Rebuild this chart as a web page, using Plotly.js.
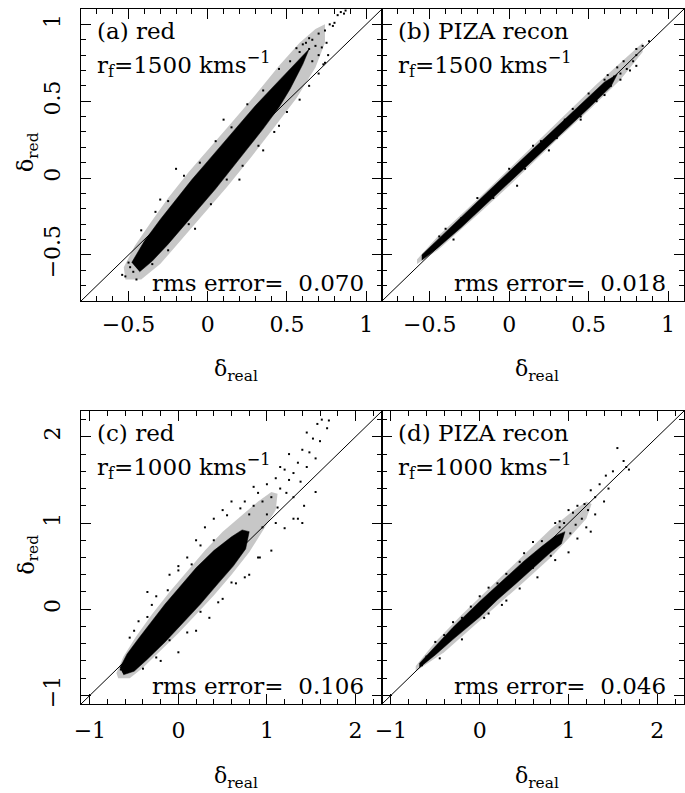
<!DOCTYPE html>
<html><head><meta charset="utf-8">
<script src="https://cdn.plot.ly/plotly-3.0.1.min.js"></script>
<style>html,body{margin:0;padding:0;background:#fff}</style>
</head><body><div id="plot" style="width:685px;height:793px"></div>
<script>
// ---- panel (a): red, r_f=1500 ----
const aCoreX = [-0.48,-0.4,-0.3,-0.2,-0.1,0,0.1,0.2,0.3,0.4,0.5,0.58,0.64, 0.6,0.52,0.45,0.35,0.25,0.15,0.05,-0.05,-0.15,-0.25,-0.35,-0.43];
const aCoreY = [-0.55,-0.41,-0.27,-0.14,-0.01,0.11,0.23,0.35,0.47,0.58,0.69,0.78,0.84, 0.74,0.58,0.46,0.32,0.19,0.06,-0.07,-0.19,-0.31,-0.43,-0.54,-0.61];
const aHaloX = [-0.53,-0.46,-0.36,-0.25,-0.12,0,0.15,0.3,0.45,0.58,0.68,0.74, 0.74,0.68,0.56,0.42,0.27,0.12,-0.03,-0.18,-0.3,-0.42,-0.52];
const aHaloY = [-0.58,-0.44,-0.29,-0.13,0.04,0.18,0.36,0.54,0.73,0.88,0.97,1.0, 0.88,0.72,0.52,0.33,0.13,-0.06,-0.24,-0.42,-0.56,-0.66,-0.66];
const aDotX = [0.84,0.86,0.87,0.82,0.77,0.79,0.80,0.74,0.70,0.66,0.68,0.72,0.75,0.64,0.70,0.76,0.62,0.58,0.66,0.73,-0.54,-0.52,-0.49,-0.47,-0.50,-0.45,
  0.2,0.35,-0.08,-0.2,0.1,0.45,-0.3,
  -0.42,-0.33,-0.25,-0.15,-0.05,0.05,0.15,0.25,0.35,0.45,0.52,0.56,0.6,0.64,
  -0.35,-0.25,-0.12,0.02,0.12,0.22,0.32,0.42,0.5,0.58,0.64,0.7,0.74];
const aDotY = [1.08,1.07,1.09,1.06,1.0,0.99,1.01,0.96,0.94,0.90,0.86,0.85,0.88,0.84,0.80,0.80,0.88,0.82,0.76,0.74,-0.63,-0.64,-0.58,-0.61,-0.55,-0.66,
  -0.01,0.18,-0.33,0.06,0.38,0.34,-0.14,
  -0.34,-0.22,-0.15,0.015,0.10,0.24,0.33,0.48,0.57,0.71,0.76,0.845,0.87,0.91,
  -0.56,-0.47,-0.30,-0.17,-0.01,0.08,0.21,0.30,0.43,0.51,0.60,0.68,0.75];

// ---- panel (b): PIZA recon, r_f=1500 ----
const bCoreX = [-0.55,-0.45,-0.3,-0.1,0.1,0.3,0.5,0.6,0.68, 0.64,0.5,0.3,0.1,-0.1,-0.3,-0.45,-0.55];
const bCoreY = [-0.50,-0.40,-0.25,-0.055,0.14,0.335,0.53,0.625,0.675, 0.595,0.455,0.26,0.065,-0.13,-0.32,-0.455,-0.535];
const bHaloX = [-0.58,-0.45,-0.2,0,0.3,0.55,0.7,0.84, 0.84,0.7,0.5,0.3,0,-0.2,-0.45,-0.58];
const bHaloY = [-0.53,-0.38,-0.14,0.06,0.36,0.61,0.75,0.88, 0.82,0.64,0.44,0.25,-0.05,-0.24,-0.47,-0.56];
const bDotX = [0.88,0.84,0.80,0.78,0.74,0.72,0.70,0.66,0.64,0.60,0.55,0.50,0.45,-0.53,-0.5,-0.47,-0.44,0.35,0.3,0.2,0.1,0.0,-0.1,-0.3,0.58,0.52,0.76,
  -0.4,-0.2,0.15,0.4,0.62,0.68,0.8,-0.35,0.05,0.25,0.45,0.6,0.7,0.8];
const bDotY = [0.89,0.86,0.80,0.76,0.71,0.76,0.68,0.66,0.60,0.64,0.50,0.55,0.40,-0.50,-0.47,-0.46,-0.38,0.38,0.26,0.24,0.06,0.06,-0.13,-0.26,0.55,0.50,0.70,
  -0.33,-0.13,0.21,0.45,0.67,0.72,0.84,-0.4,-0.05,0.18,0.38,0.54,0.64,0.73];

// ---- panel (c): red, r_f=1000 ----
const cCoreX = [-0.66,-0.58,-0.45,-0.3,-0.15,0,0.2,0.4,0.6,0.72,0.8, 0.76,0.62,0.45,0.25,0.05,-0.15,-0.35,-0.5,-0.62];
const cCoreY = [-0.68,-0.52,-0.34,-0.14,0.06,0.24,0.48,0.68,0.84,0.92,0.90, 0.70,0.50,0.30,0.06,-0.16,-0.38,-0.58,-0.72,-0.76];
const cHaloX = [-0.7,-0.62,-0.48,-0.3,-0.1,0.1,0.3,0.5,0.7,0.9,1.05,1.12, 1.1,0.95,0.8,0.6,0.4,0.2,0,-0.2,-0.4,-0.55,-0.68];
const cHaloY = [-0.74,-0.55,-0.32,-0.06,0.2,0.44,0.68,0.9,1.08,1.25,1.36,1.34, 1.15,0.9,0.66,0.4,0.16,-0.06,-0.28,-0.48,-0.68,-0.8,-0.8];
const cDotX = [1.70,1.68,1.62,1.57,1.52,1.60,1.48,1.55,1.40,1.35,1.45,1.30,1.25,1.20,1.38,1.15,1.10,1.05,1.22,1.30,1.0,0.95,1.12,0.90,0.85,1.0,1.1,0.75,0.8,1.3,1.42,1.4,0.95,0.92,0.80,0.65,0.5,0.2,0.35,0.0,-0.2,-0.35,-0.3,-0.5,0.1,0.3,0.5,0.6,-0.1,0.2,-0.62,-0.65,0.0,0.4,
  -0.55,-0.45,-0.35,-0.25,-0.12,0.0,0.15,0.25,0.4,0.55,0.7,0.85,
  -0.4,-0.25,-0.1,0.1,0.25,0.45,0.6,0.75,0.9,1.05,1.2,1.35,1.55,1.15,1.25,1.45];
const cDotY = [2.19,2.1,2.2,2.15,1.98,1.95,1.82,1.75,1.85,1.70,1.65,1.58,1.50,1.62,1.48,1.40,1.52,1.30,1.35,1.30,1.45,1.25,1.18,1.35,1.20,1.1,1.0,1.25,1.1,1.05,1.2,1.0,0.95,0.6,0.4,0.3,0.12,-0.25,-0.1,-0.5,-0.6,0.2,0.05,-0.25,0.6,0.95,1.15,1.25,0.4,0.8,-0.72,-0.7,0.5,1.05,
  -0.33,-0.14,-0.09,0.15,0.22,0.45,0.52,0.74,0.80,1.09,1.17,1.42,
  -0.69,-0.56,-0.36,-0.27,-0.03,0.08,0.31,0.37,0.60,0.68,0.94,1.05,1.36,1.65,1.8,2.05];

// ---- panel (d): PIZA recon, r_f=1000 ----
const dCoreX = [-0.68,-0.5,-0.3,0,0.3,0.5,0.7,0.85,0.96, 0.92,0.8,0.6,0.4,0.2,0,-0.3,-0.5,-0.68];
const dCoreY = [-0.63,-0.43,-0.21,0.09,0.37,0.56,0.73,0.85,0.90, 0.76,0.66,0.47,0.29,0.11,-0.09,-0.35,-0.53,-0.68];
const dHaloX = [-0.72,-0.5,-0.2,0.2,0.5,0.8,1.0,1.2,1.26, 1.2,1.0,0.8,0.5,0.2,-0.1,-0.4,-0.72];
const dHaloY = [-0.66,-0.38,-0.06,0.34,0.64,0.93,1.10,1.25,1.22, 1.05,0.82,0.6,0.32,0.05,-0.22,-0.5,-0.72];
const dDotX = [1.55,1.62,1.65,1.68,1.42,1.45,1.35,1.30,1.25,1.18,1.22,1.10,1.05,1.15,1.0,0.95,1.08,1.2,1.02,0.9,0.85,0.8,0.6,0.45,0.3,0.6,0.2,0.0,-0.2,0.1,-0.4,-0.6,-0.65,1.3,
  -0.5,-0.3,-0.1,0.1,0.3,0.5,0.7,0.9,
  -0.45,-0.2,0.05,0.25,0.45,0.65,0.85,1.0,1.1,1.25,1.4,1.5];
const dDotY = [1.87,1.72,1.65,1.62,1.55,1.40,1.45,1.30,1.38,1.22,1.15,1.20,1.12,1.05,1.15,1.0,0.98,0.95,0.88,0.95,1.0,0.62,0.48,0.55,0.1,0.78,0.3,0.15,-0.1,-0.05,-0.3,-0.55,-0.65,1.1,
  -0.38,-0.15,0.03,0.25,0.41,0.65,0.79,1.02,
  -0.57,-0.35,-0.1,0.05,0.24,0.37,0.57,0.66,0.82,0.9,1.25,1.6];

// axis ranges, diagonal, labels
const topRange = [-0.8, 1.1];
const botRange = [-1.1, 2.3];
const panelTitles = ['(a) red', '(b) PIZA recon', '(c) red', '(d) PIZA recon'];
const filterLabels = ['r<sub>f</sub>=1500 kms<sup>−1</sup>', 'r<sub>f</sub>=1500 kms<sup>−1</sup>', 'r<sub>f</sub>=1000 kms<sup>−1</sup>', 'r<sub>f</sub>=1000 kms<sup>−1</sup>'];
const rmsLabels = ['rms error=  0.070', 'rms error=  0.018', 'rms error=  0.106', 'rms error=  0.046'];
const xTitle = 'δ<sub>real</sub>';
const yTitle = 'δ<sub>red</sub>';

const W = 685, H = 793;
const FONT = 'DejaVu Serif';
const panels = [
  {cx:aCoreX, cy:aCoreY, hx:aHaloX, hy:aHaloY, dx:aDotX, dy:aDotY, range:topRange, px:[81,382], py:[9,301], major:0.5, minor:0.1, lso:3, xt:370},
  {cx:bCoreX, cy:bCoreY, hx:bHaloX, hy:bHaloY, dx:bDotX, dy:bDotY, range:topRange, px:[382,684], py:[9,301], major:0.5, minor:0.1, lso:3, xt:370},
  {cx:cCoreX, cy:cCoreY, hx:cHaloX, hy:cHaloY, dx:cDotX, dy:cDotY, range:botRange, px:[81,382], py:[411,704], major:1, minor:0.2, lso:6, xt:777},
  {cx:dCoreX, cy:dCoreY, hx:dHaloX, hy:dHaloY, dx:dDotX, dy:dDotY, range:botRange, px:[382,684], py:[411,704], major:1, minor:0.2, lso:6, xt:777}
];

const traces = [];
const layout = {
  width: W, height: H, margin:{l:0,r:0,t:0,b:0},
  paper_bgcolor:'#fff', plot_bgcolor:'#fff', showlegend:false,
  font:{family:FONT, size:22, color:'#000'},
  annotations: []
};

panels.forEach((p, i) => {
  const n = i + 1;
  const xa = n === 1 ? 'x' : 'x' + n;
  const ya = n === 1 ? 'y' : 'y' + n;
  traces.push({x:p.hx, y:p.hy, xaxis:xa, yaxis:ya, type:'scatter', mode:'lines', fill:'toself',
    fillcolor:'rgba(0,0,0,0.22)', line:{width:0}, hoverinfo:'skip'});
  traces.push({x:p.cx, y:p.cy, xaxis:xa, yaxis:ya, type:'scatter', mode:'lines', fill:'toself',
    fillcolor:'#000', line:{width:0.5, color:'#000'}, hoverinfo:'skip'});
  traces.push({x:p.dx, y:p.dy, xaxis:xa, yaxis:ya, type:'scatter', mode:'markers',
    marker:{size:2, color:'#000', symbol:'square'}, hoverinfo:'skip'});
  traces.push({x:p.range, y:p.range, xaxis:xa, yaxis:ya, type:'scatter', mode:'lines',
    line:{width:1, color:'#000'}, hoverinfo:'skip'});

  const common = {
    range:p.range, showgrid:false, zeroline:false, showline:true, linecolor:'#000', linewidth:1.2,
    mirror:'allticks', ticks:'inside', ticklen:10, tickwidth:1, tickcolor:'#000',
    dtick:p.major, tick0:0,
    minor:{dtick:p.minor, tick0:0, ticks:'inside', ticklen:5, tickwidth:1, tickcolor:'#000', showgrid:false},
    tickfont:{family:FONT, size:22, color:'#000'}
  };
  layout[n === 1 ? 'xaxis' : 'xaxis' + n] = Object.assign({}, common, {
    domain:[p.px[0]/W, p.px[1]/W], anchor:ya, ticklabelstandoff:p.lso
  });
  const left = (n === 1 || n === 3);
  layout[n === 1 ? 'yaxis' : 'yaxis' + n] = Object.assign({}, common, {
    domain:[1 - p.py[1]/H, 1 - p.py[0]/H], anchor:xa, tickangle:-90,
    showticklabels:left, ticklabelstandoff:11
  });

  // axis titles
  layout.annotations.push({xref:'paper', yref:'paper', x:((p.px[0] + p.px[1]) / 2 + 4)/W, y:1 - p.xt/H,
    xanchor:'center', yanchor:'middle', text:xTitle, showarrow:false, font:{family:FONT, size:22, color:'#000'}});
  if (left) {
    layout.annotations.push({xref:'paper', yref:'paper', x:28/W, y:1 - ((p.py[0] + p.py[1]) / 2 - 3)/H,
      xanchor:'center', yanchor:'middle', textangle:-90, text:yTitle, showarrow:false, font:{family:FONT, size:22, color:'#000'}});
  }

  const x0 = (p.px[0] + 14) / W;
  layout.annotations.push({xref:'paper', yref:'paper', x:x0, y:1 - (p.py[0] + 22)/H, xanchor:'left', yanchor:'middle',
    text:panelTitles[i], showarrow:false, font:{family:FONT, size:23, color:'#000'}});
  layout.annotations.push({xref:'paper', yref:'paper', x:x0, y:1 - (p.py[0] + 55)/H, xanchor:'left', yanchor:'middle',
    text:filterLabels[i], showarrow:false, font:{family:FONT, size:23, color:'#000'}});
  layout.annotations.push({xref:'paper', yref:'paper', x:(p.px[1] - 16)/W, y:1 - (p.py[1] - 18)/H, xanchor:'right', yanchor:'middle',
    text:rmsLabels[i], showarrow:false, font:{family:FONT, size:23, color:'#000'}});
});

Plotly.newPlot('plot', traces, layout, {staticPlot:true});
</script></body></html>
